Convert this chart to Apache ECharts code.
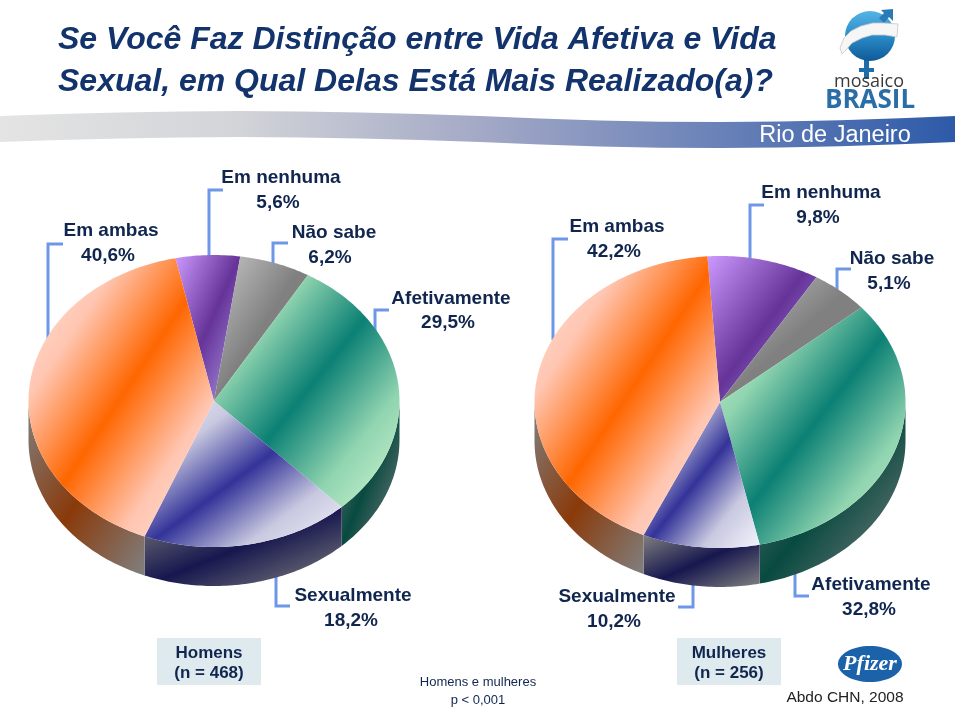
<!DOCTYPE html>
<html>
<head>
<meta charset="utf-8">
<style>
  html, body { margin: 0; padding: 0; background: #fff; }
  #chart { width: 960px; height: 707px; }
</style>
</head>
<body>
<div id="chart"></div>
<script src="https://cdn.jsdelivr.net/npm/echarts@6/dist/echarts.min.js"></script>
<script>
// dados do grafico
const categories = ['Em nenhuma', 'Não sabe', 'Afetivamente', 'Sexualmente', 'Em ambas'];
const homens = [5.6, 6.2, 29.5, 18.2, 40.6];
const mulheres = [9.8, 5.1, 32.8, 10.2, 42.2];
const titleLines = ['Se Você Faz Distinção entre Vida Afetiva e Vida', 'Sexual, em Qual Delas Está Mais Realizado(a)?'];
const groupLabels = ['Homens\n(n = 468)', 'Mulheres\n(n = 256)'];
const pValue = 'Homens e mulheres\np < 0,001';
const source = 'Abdo CHN, 2008';

const navy = '#10264f';
const leaderColor = '#6f97e8';
const font = '"Liberation Sans", Arial, sans-serif';

// claro, meio, claro: topo e lateral de cada fatia
const faceStops = [
  ['#cc99ff', '#9966cc', '#663399', '#8a68c0', '#b090e8'],
  ['#c8c8c8', '#a4a4a4', '#808080', '#808080', '#808080'],
  ['#d0f8d0', '#90d4b0', '#0b8074', '#90d4b0', '#d0f8d0'],
  ['#f4f4fc', '#c8c8e0', '#333399', '#c8c8e0', '#f4f4fc'],
  ['#ffe4dc', '#ffc6b2', '#ff6600', '#ffc6b2', '#ffe4dc']
];
const wallStops = [
  ['#808080', '#808080', '#808080'],
  ['#808080', '#808080', '#808080'],
  ['#808080', '#084a40', '#808080'],
  ['#808080', '#17174f', '#808080'],
  ['#808080', '#8a3a0a', '#808080']
];

// [nome x, nome y, valor x, valor y] e linha de chamada de cada rotulo
const layoutHomens = {
  center: [214, 401], startAngle: -12,
  labels: [[281, 178, 278, 203], [334, 233, 330, 258], [451, 299, 448, 323], [353, 596, 351, 621], [111, 231, 108, 256]],
  leaders: [
    [[223, 190], [209, 190], [209, 258]],
    [[288, 243], [273, 243], [273, 266]],
    [[389, 310], [375, 310], [375, 332]],
    [[290, 606], [276, 606], [276, 570]],
    [[63, 244], [48, 244], [48, 340]]
  ]
};
const layoutMulheres = {
  center: [720, 402], startAngle: -3.9,
  labels: [[821, 193, 818, 218], [892, 259, 889, 284], [871, 585, 869, 610], [617, 597, 614, 622], [617, 227, 614, 252]],
  leaders: [
    [[764, 205], [750, 205], [750, 262]],
    [[851, 269], [837, 269], [837, 294]],
    [[809, 596], [795, 596], [795, 570]],
    [[678, 607], [693, 607], [693, 580]],
    [[568, 239], [553, 239], [553, 340]]
  ]
};
const radiusX = 185.5;
const radiusY = 146;
const depth = 39;

function fmt(v) {
  return v.toFixed(1).replace('.', ',') + '%';
}

// gradiente diagonal da caixa envolvente, como o do PowerPoint
function diagonalFill(points, colors) {
  let xs = points.map(p => p[0]);
  let ys = points.map(p => p[1]);
  let x0 = Math.min(...xs), x1 = Math.max(...xs);
  let y0 = Math.min(...ys), y1 = Math.max(...ys);
  let w = x1 - x0, h = y1 - y0;
  let L2 = w * w + h * h;
  let mx = (x0 + x1) / 2, my = (y0 + y1) / 2;
  let dx = h * h * w / L2, dy = w * w * h / L2;
  let stops = colors.map((c, i) => ({ offset: i / (colors.length - 1), color: c }));
  return new echarts.graphic.LinearGradient(mx - dx, my - dy, mx + dx, my + dy, stops, true);
}

function pieSeries(values, layout) {
  const total = values.reduce((a, b) => a + b, 0);
  const cx = layout.center[0], cy = layout.center[1];
  const rim = (deg, off) => {
    let a = deg * Math.PI / 180;
    return [cx + radiusX * Math.sin(a), cy - radiusY * Math.cos(a) + (off || 0)];
  };
  const arc = (from, to, off) => {
    let pts = [];
    let n = Math.max(2, Math.ceil(to - from));
    for (let i = 0; i <= n; i++) {
      pts.push(rim(from + (to - from) * i / n, off));
    }
    return pts;
  };
  return {
    type: 'custom',
    coordinateSystem: 'none',
    silent: true,
    animation: false,
    data: values,
    renderItem(params, api) {
      const i = params.dataIndex;
      const before = values.slice(0, i).reduce((a, b) => a + b, 0);
      const range = [layout.startAngle, layout.startAngle + 360];
      const a0 = echarts.number.linearMap(before, [0, total], range);
      const a1 = echarts.number.linearMap(before + api.value(0), [0, total], range);
      const children = [];

      // lateral, so a metade da frente
      const w0 = Math.max(a0, 90), w1 = Math.min(a1, 270);
      if (w1 > w0) {
        const wall = arc(w0, w1, 0).concat(arc(w0, w1, depth).reverse());
        children.push({
          type: 'polygon', z2: 2,
          shape: { points: wall },
          style: { fill: diagonalFill(wall, wallStops[i]) }
        });
      }
      const top = [[cx, cy]].concat(arc(a0, a1, 0));
      children.push({
        type: 'polygon', z2: 3,
        shape: { points: top },
        style: { fill: diagonalFill(top, faceStops[i]) }
      });
      children.push({
        type: 'polyline', z2: 1,
        shape: { points: layout.leaders[i] },
        style: { stroke: leaderColor, lineWidth: 3, fill: 'none' }
      });
      const pos = layout.labels[i];
      const textStyle = { fill: navy, font: 'bold 19px ' + font, align: 'center', verticalAlign: 'middle' };
      children.push({
        type: 'text', z2: 4, x: pos[0], y: pos[1],
        style: Object.assign({ text: categories[i] }, textStyle)
      });
      children.push({
        type: 'text', z2: 4, x: pos[2], y: pos[3],
        style: Object.assign({ text: fmt(api.value(0)) }, textStyle)
      });
      return { type: 'group', children };
    }
  };
}

// faixa ondulada atras de "Rio de Janeiro"
const bandTop = [[0, 116], [60, 114], [120, 112.6], [180, 111.5], [240, 111], [300, 111.5], [360, 112.6], [420, 114], [480, 116], [540, 118.5], [600, 120.5], [660, 121.7], [720, 122], [780, 121.5], [840, 120.2], [900, 118.2], [955, 116]];
const bandBottom = bandTop.map(p => [p[0], p[1] + 26]).reverse();

const graphics = [
  {
    type: 'polygon', z: 1,
    shape: { points: bandTop.concat(bandBottom) },
    style: {
      fill: new echarts.graphic.LinearGradient(0, 0, 1, 0, [
        { offset: 0, color: '#e4e4e4' },
        { offset: 0.25, color: '#d2d4d8' },
        { offset: 0.5, color: '#a4a9c6' },
        { offset: 0.75, color: '#6a82b8' },
        { offset: 1, color: '#2d5aa8' }
      ])
    }
  },
  { type: 'text', z: 2, x: 835, y: 136, style: { text: 'Rio de Janeiro', fill: '#fff', font: '23.5px ' + font, align: 'center', verticalAlign: 'middle' } },

  // logo mosaico BRASIL
  { type: 'rect', z: 2, shape: { x: 864, y: 58, width: 5, height: 21 }, style: { fill: '#1b6ea8' } },
  { type: 'rect', z: 2, shape: { x: 859, y: 68, width: 15, height: 4 }, style: { fill: '#1b6ea8' } },
  {
    type: 'circle', z: 2,
    shape: { cx: 870, cy: 36, r: 25 },
    style: {
      fill: new echarts.graphic.LinearGradient(0, 0, 0, 1, [
        { offset: 0, color: '#55b4e6' },
        { offset: 0.5, color: '#2a8cc8' },
        { offset: 1, color: '#0f5a98' }
      ])
    }
  },
  { type: 'polygon', z: 3, shape: { points: [[881, 10], [893, 9], [893, 21], [889, 17], [884, 23], [879, 18], [884, 13]] }, style: { fill: '#2a7ab8' } },
  {
    type: 'polygon', z: 4,
    shape: { points: [[840, 48], [844, 38], [851, 31], [861, 26], [873, 23], [884, 23], [898, 24], [897, 37], [885, 35], [872, 35], [862, 38], [852, 43], [846, 50], [842, 54]] },
    style: { fill: '#f6f6f6', stroke: '#c8c8c8', lineWidth: 0.8 }
  },
  { type: 'text', z: 2, x: 869, y: 82, style: { text: 'mosaico', fill: '#3a3a3a', font: '18px "Open Sans", sans-serif', align: 'center', verticalAlign: 'middle' } },
  { type: 'text', z: 2, x: 870, y: 101, style: { text: 'BRASIL', fill: '#2a6ea8', font: 'bold 26px "Open Sans", sans-serif', align: 'center', verticalAlign: 'middle' } },

  // caixas dos grupos
  { type: 'rect', z: 1, shape: { x: 157, y: 638, width: 104, height: 47 }, style: { fill: '#deeaee' } },
  { type: 'rect', z: 1, shape: { x: 677, y: 638, width: 104, height: 47 }, style: { fill: '#deeaee' } },
  { type: 'text', z: 2, x: 209, y: 663, style: { text: groupLabels[0], fill: navy, font: 'bold 17px ' + font, lineHeight: 20, align: 'center', verticalAlign: 'middle' } },
  { type: 'text', z: 2, x: 729, y: 663, style: { text: groupLabels[1], fill: navy, font: 'bold 17px ' + font, lineHeight: 20, align: 'center', verticalAlign: 'middle' } },
  { type: 'text', z: 2, x: 478, y: 691, style: { text: pValue, fill: navy, font: '13px ' + font, lineHeight: 18, align: 'center', verticalAlign: 'middle' } },

  // logo Pfizer e fonte
  { type: 'ellipse', z: 1, shape: { cx: 870, cy: 664, rx: 32, ry: 18 }, style: { fill: '#1c62a8' } },
  { type: 'text', z: 2, x: 870, y: 664, style: { text: 'Pfizer', fill: '#fff', font: 'italic bold 22px "Liberation Serif", serif', align: 'center', verticalAlign: 'middle' } },
  { type: 'text', z: 2, x: 845, y: 698, style: { text: source, fill: '#222', font: '15.5px ' + font, align: 'center', verticalAlign: 'middle' } }
];

const chart = echarts.init(document.getElementById('chart'));
chart.setOption({
  backgroundColor: '#fff',
  title: {
    text: titleLines.join('\n'),
    left: 53, top: 14,
    textStyle: {
      color: '#12336b',
      fontFamily: font,
      fontStyle: 'italic',
      fontWeight: 'bold',
      fontSize: 32,
      lineHeight: 42
    }
  },
  graphic: { elements: graphics },
  series: [pieSeries(homens, layoutHomens), pieSeries(mulheres, layoutMulheres)]
});
</script>
</body>
</html>
